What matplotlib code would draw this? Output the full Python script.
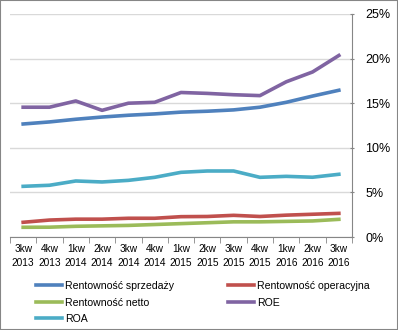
import matplotlib
matplotlib.use('Agg')
import matplotlib.pyplot as plt
from matplotlib.ticker import FuncFormatter

quarters = ['3kw\n2013', '4kw\n2013', '1kw\n2014', '2kw\n2014', '3kw\n2014', '4kw\n2014', '1kw\n2015',
            '2kw\n2015', '3kw\n2015', '4kw\n2015', '1kw\n2016', '2kw\n2016', '3kw\n2016']

sprzedazy = [12.67, 12.9, 13.2, 13.45, 13.65, 13.8, 14.0, 14.1, 14.25, 14.55, 15.1, 15.8, 16.45]
operacyjna = [1.65, 1.9, 2.0, 2.0, 2.1, 2.1, 2.28, 2.3, 2.43, 2.3, 2.45, 2.55, 2.65]
netto = [1.09, 1.1, 1.2, 1.25, 1.3, 1.4, 1.5, 1.6, 1.7, 1.7, 1.75, 1.8, 1.98]
roe = [14.55, 14.55, 15.25, 14.2, 15.0, 15.1, 16.2, 16.1, 15.95, 15.85, 17.4, 18.5, 20.35]
roa = [5.68, 5.8, 6.28, 6.17, 6.35, 6.69, 7.25, 7.4, 7.4, 6.69, 6.8, 6.7, 7.03]

plt.rcParams['font.family'] = ['Liberation Sans', 'DejaVu Sans']

fig = plt.figure(figsize=(3.98, 3.30), dpi=100)
ax = fig.add_axes([10 / 398, 1 - 237 / 330, 342 / 398, 223 / 330])

x = range(len(quarters))
lw = 2.6
l1, = ax.plot(x, sprzedazy, color='#4F81BD', lw=lw, label='Rentowność sprzedaży')
l2, = ax.plot(x, operacyjna, color='#C0504D', lw=lw, label='Rentowność operacyjna')
l3, = ax.plot(x, netto, color='#9BBB59', lw=lw, label='Rentowność netto')
l4, = ax.plot(x, roe, color='#8064A2', lw=lw, label='ROE')
l5, = ax.plot(x, roa, color='#4BACC6', lw=lw, label='ROA')

ax.set_xlim(-0.5, len(quarters) - 0.5)
ax.set_ylim(0, 25)
ax.set_yticks([0, 5, 10, 15, 20, 25])
ax.yaxis.set_major_formatter(FuncFormatter(lambda v, p: f'{int(v)}%'))
ax.yaxis.tick_right()
ax.grid(axis='y', color='#D9D9D9', lw=1)
ax.set_axisbelow(True)

ax.set_xticks(list(x))
ax.set_xticklabels(quarters, fontsize=7.3, linespacing=1.45)
ax.set_xticks([i - 0.5 for i in range(len(quarters) + 1)], minor=True)
ax.tick_params(axis='x', which='major', length=0, pad=5)
ax.tick_params(axis='x', which='minor', length=4, color='#868686', direction='out')
ax.tick_params(axis='y', length=3, color='#868686', direction='inout', labelsize=9, pad=8)

for s in ['top', 'left']:
    ax.spines[s].set_visible(False)
ax.spines['bottom'].set_color('#868686')
ax.spines['right'].set_color('#868686')

# two legend columns placed separately, like the Excel layout
leg_kw = dict(loc='upper left', frameon=False, fontsize=7.6, handlelength=2.45, handletextpad=0.3,
              labelspacing=0.62, borderpad=0, borderaxespad=0)
leg1 = fig.legend(handles=[l1, l3, l5], bbox_to_anchor=(36 / 398, 1 - 281 / 330), **leg_kw)
leg2 = fig.legend(handles=[l2, l4], bbox_to_anchor=(228 / 398, 1 - 281 / 330), **leg_kw)

fig.patches.append(plt.Rectangle((0, 0), 1, 1, transform=fig.transFigure, fill=False,
                                 edgecolor='#868686', lw=1.5))

fig.savefig('out.png', dpi=100)
